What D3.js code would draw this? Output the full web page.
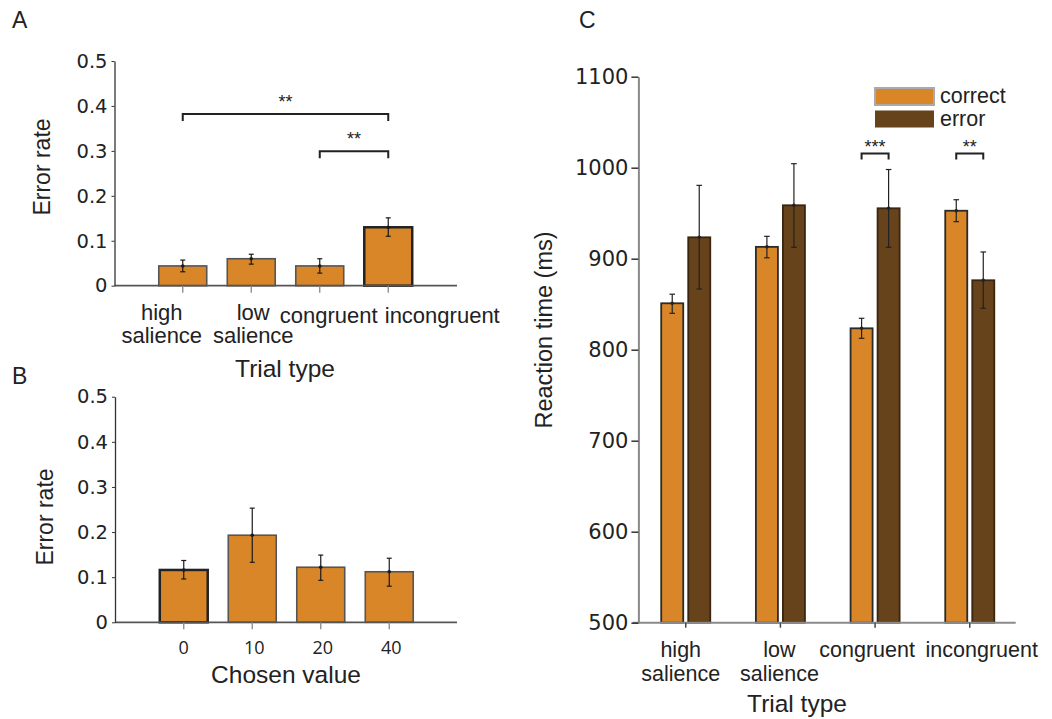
<!DOCTYPE html>
<html>
<head>
<meta charset="utf-8">
<script src="https://cdn.jsdelivr.net/npm/d3@7"></script>
<style>
  body { margin: 0; background: #fff; }
  svg { display: block; font-family: "Liberation Sans", Arial, sans-serif; }
  text { fill: #222; }
</style>
</head>
<body>
<svg id="chart" width="1052" height="719"></svg>
<script>
// --- data ---

// panel A: error rate per trial type
var trialTypes = ["high salience", "low salience", "congruent", "incongruent"];
var errorRateA = [0.044, 0.060, 0.044, 0.130];
var errorRateALow = [0.031, 0.048, 0.028, 0.110];
var errorRateAHigh = [0.057, 0.070, 0.060, 0.151];
var errorTicks = [0, 0.1, 0.2, 0.3, 0.4, 0.5];
var sigA = [
  { from: "high salience", to: "incongruent", y: 0.382, label: "**" },
  { from: "congruent", to: "incongruent", y: 0.299, label: "**" }
];

// panel B: error rate per chosen value
var chosenValues = ["0", "10", "20", "40"];
var errorRateB = [0.116, 0.193, 0.122, 0.112];
var errorRateBLow = [0.096, 0.133, 0.093, 0.080];
var errorRateBHigh = [0.137, 0.253, 0.149, 0.142];

// panel C: reaction time, correct vs error trials
var outcomes = ["correct", "error"];
var rtCorrect = [851, 913, 823.5, 952.7];
var rtCorrectLow = [840, 901, 812.5, 940.7];
var rtCorrectHigh = [861, 924.6, 834.5, 964.8];
var rtError = [923.5, 958.7, 955.4, 876.3];
var rtErrorLow = [866.7, 912.5, 912.5, 845.5];
var rtErrorHigh = [980.6, 1004.4, 998, 907.4];
var rtTicks = [500, 600, 700, 800, 900, 1000, 1100];
var sigC = [
  { group: "congruent", y: 1015.5, label: "***" },
  { group: "incongruent", y: 1015.5, label: "**" }
];

// --- style ---
var ORANGE = "#d98628";
var BROWN = "#66431a";
var TEXT = "#222";
var TICK_FONT = "'DejaVu Sans', sans-serif";

var svg = d3.select("#chart");

function fmtRate(d) { return d === 0 ? "0" : d3.format(".1f")(d); }

// two-line category label (e.g. "high salience" -> high / salience)
function catLines(name) {
  return name.indexOf("salience") >= 0 ? name.split(" ") : [name];
}

function errorBars(g, xs, lows, highs, means, capW, color) {
  var eb = g.append("g").attr("class", "errbars");
  xs.forEach(function(x, i) {
    eb.append("line").attr("x1", x).attr("x2", x)
      .attr("y1", lows[i]).attr("y2", highs[i])
      .attr("stroke", color).attr("stroke-width", 1.2);
    [lows[i], highs[i]].forEach(function(y) {
      eb.append("line").attr("x1", x - capW).attr("x2", x + capW)
        .attr("y1", y).attr("y2", y)
        .attr("stroke", color).attr("stroke-width", 1.2);
    });
    eb.append("circle").attr("cx", x).attr("cy", means[i]).attr("r", 1.8).attr("fill", color);
  });
}

// ---------- panels A and B: single-series error-rate bars ----------
function ratePanel(opts) {
  var g = svg.append("g");
  var x = d3.scaleBand()
    .domain(opts.cats)
    .range(opts.xRange)
    .paddingInner(0.3)
    .paddingOuter(0.15);
  var y = d3.scaleLinear().domain([0, 0.5]).range(opts.yRange);

  // bars
  g.selectAll("rect.bar")
    .data(opts.values)
    .enter()
    .append("rect")
    .attr("class", "bar")
    .attr("x", function(d, i) { return x(opts.cats[i]); })
    .attr("y", function(d) { return y(d); })
    .attr("width", x.bandwidth())
    .attr("height", function(d) { return y(0) - y(d); })
    .attr("fill", ORANGE)
    .attr("stroke", function(d, i) { return opts.darkEdge[i] ? "#222" : "#555"; })
    .attr("stroke-width", function(d, i) { return opts.darkEdge[i] ? 2.5 : 1.6; });

  var centers = opts.cats.map(function(c) { return x(c) + x.bandwidth() / 2; });
  errorBars(g, centers,
    opts.lows.map(y), opts.highs.map(y), opts.values.map(y), 2.5, "#1a1a1a");

  // x axis: base line + downward ticks
  g.append("line")
    .attr("x1", opts.axisX).attr("x2", opts.xEnd)
    .attr("y1", y(0)).attr("y2", y(0))
    .attr("stroke", "#555").attr("stroke-width", 1.8);
  centers.forEach(function(cx) {
    g.append("line").attr("x1", cx).attr("x2", cx)
      .attr("y1", y(0)).attr("y2", y(0) + 7)
      .attr("stroke", "#888").attr("stroke-width", 1.3);
  });

  // y axis
  var yAxis = d3.axisLeft(y).tickValues(errorTicks).tickFormat(fmtRate)
    .tickSize(3).tickSizeOuter(0).tickPadding(4);
  var ya = g.append("g").attr("transform", "translate(" + opts.axisX + ",0)").call(yAxis);
  ya.select(".domain").attr("stroke", "#333").attr("stroke-width", 1.3);
  ya.selectAll(".tick line").attr("stroke", "#333");
  ya.selectAll(".tick text")
    .style("font-family", TICK_FONT)
    .style("font-size", "19.5px").attr("fill", TEXT);

  // category labels
  opts.drawLabels(g, x, centers, y(0));

  // axis titles
  g.append("text")
    .attr("transform", "translate(" + opts.yTitle[0] + "," + opts.yTitle[1] + ") rotate(-90)")
    .attr("text-anchor", "middle").attr("dominant-baseline", "central")
    .style("font-size", "23px").text("Error rate");
  g.append("text")
    .attr("x", opts.xTitle[0]).attr("y", opts.xTitle[1])
    .attr("text-anchor", "middle").style("font-size", "24.5px").text(opts.xTitleText);

  return { g: g, x: x, y: y };
}

// panel A
var labelShiftA = [-21, 2, 9, 54];
var pA = ratePanel({
  cats: trialTypes,
  values: errorRateA, lows: errorRateALow, highs: errorRateAHigh,
  darkEdge: [false, false, false, true],
  xRange: [148.5, 422.5], yRange: [285.7, 61],
  axisX: 114.5, xEnd: 457,
  yTitle: [42, 167], xTitle: [285, 377], xTitleText: "Trial type",
  drawLabels: function(g, x, centers, y0) {
    trialTypes.forEach(function(t, i) {
      var lines = catLines(t);
      var txt = g.append("text").attr("text-anchor", "middle")
        .style("font-size", "22px");
      lines.forEach(function(l, j) {
        txt.append("tspan")
          .attr("x", centers[i] + labelShiftA[i])
          .attr("y", lines.length > 1 ? y0 + 34 + j * 23 : y0 + 37)
          .text(l);
      });
    });
  }
});

// significance brackets for A
sigA.forEach(function(s) {
  var x1 = pA.x(s.from) + pA.x.bandwidth() / 2;
  var x2 = pA.x(s.to) + pA.x.bandwidth() / 2;
  var yy = pA.y(s.y);
  pA.g.append("path")
    .attr("d", "M" + x1 + "," + (yy + 7) + "V" + yy + "H" + x2 + "V" + (yy + 7))
    .attr("fill", "none").attr("stroke", "#222").attr("stroke-width", 2);
  pA.g.append("text").attr("x", (x1 + x2) / 2).attr("y", yy - 6)
    .attr("text-anchor", "middle").style("font-size", "18px").text(s.label);
});

// panel B
var pB = ratePanel({
  cats: chosenValues,
  values: errorRateB, lows: errorRateBLow, highs: errorRateBHigh,
  darkEdge: [true, false, false, false],
  xRange: [149.5, 423.5], yRange: [622.3, 396.7],
  axisX: 115, xEnd: 457,
  yTitle: [45, 517], xTitle: [286, 683], xTitleText: "Chosen value",
  drawLabels: function(g, x, centers, y0) {
    chosenValues.forEach(function(v, i) {
      g.append("text")
        .attr("x", centers[i] + (i === 0 ? 0 : 2))
        .attr("y", y0 + 32)
        .attr("text-anchor", "middle")
        .style("font-family", "'Open Sans', sans-serif")
        .style("font-size", "18px")
        .text(v);
    });
  }
});

// ---------- panel C: reaction time, grouped bars ----------
var gC = svg.append("g");
var xC = d3.scaleBand()
  .domain(trialTypes)
  .range([638.4, 1017.1])
  .paddingInner(0.482)
  .paddingOuter(0.241);
var xSub = d3.scaleBand()
  .domain(outcomes)
  .range([0, xC.bandwidth()])
  .paddingInner(0.185);
var yC = d3.scaleLinear().domain([500, 1100]).range([622.7, 76.7]);

var seriesC = [
  { key: "correct", vals: rtCorrect, lows: rtCorrectLow, highs: rtCorrectHigh, fill: ORANGE, edge: "#2a2a2a" },
  { key: "error", vals: rtError, lows: rtErrorLow, highs: rtErrorHigh, fill: BROWN, edge: "#3a2610" }
];

seriesC.forEach(function(s) {
  gC.append("g").selectAll("rect")
    .data(s.vals)
    .enter()
    .append("rect")
    .attr("x", function(d, i) { return xC(trialTypes[i]) + xSub(s.key); })
    .attr("y", function(d) { return yC(d); })
    .attr("width", xSub.bandwidth())
    .attr("height", function(d) { return yC(500) - yC(d); })
    .attr("fill", s.fill)
    .attr("stroke", s.edge)
    .attr("stroke-width", 1.8);
});

seriesC.forEach(function(s) {
  var xs = trialTypes.map(function(t) { return xC(t) + xSub(s.key) + xSub.bandwidth() / 2; });
  errorBars(gC, xs, s.lows.map(yC), s.highs.map(yC), s.vals.map(yC), 2.8, "#222");
});

// x axis C
gC.append("line")
  .attr("x1", 632.7).attr("x2", 1015.7)
  .attr("y1", yC(500)).attr("y2", yC(500))
  .attr("stroke", "#8a8a8a").attr("stroke-width", 2);
trialTypes.forEach(function(t) {
  var cx = xC(t) + xC.bandwidth() / 2;
  gC.append("line").attr("x1", cx).attr("x2", cx)
    .attr("y1", yC(500)).attr("y2", yC(500) + 5)
    .attr("stroke", "#444").attr("stroke-width", 1.5);
});

// y axis C
var yAxisC = d3.axisLeft(yC).tickValues(rtTicks).tickFormat(d3.format("d"))
  .tickSize(7).tickSizeOuter(0).tickPadding(3);
var yaC = gC.append("g").attr("transform", "translate(638.4,0)").call(yAxisC);
yaC.select(".domain").attr("stroke", "#8a8a8a").attr("stroke-width", 2);
yaC.selectAll(".tick line").attr("stroke", "#333").attr("stroke-width", 1.5);
yaC.selectAll(".tick text")
  .style("font-family", TICK_FONT)
  .style("font-size", "21px").attr("fill", TEXT);

// category labels C
var labelShiftC = [-5, -1, -8, 12];
trialTypes.forEach(function(t, i) {
  var cx = xC(t) + xC.bandwidth() / 2 + labelShiftC[i];
  var lines = catLines(t);
  var txt = gC.append("text").attr("text-anchor", "middle").style("font-size", "21.5px");
  lines.forEach(function(l, j) {
    txt.append("tspan").attr("x", cx).attr("y", yC(500) + 34 + j * 24).text(l);
  });
});

// significance brackets C
sigC.forEach(function(s) {
  var x1 = xC(s.group) + xSub("correct") + xSub.bandwidth() / 2;
  var x2 = xC(s.group) + xSub("error") + xSub.bandwidth() / 2;
  var yy = yC(s.y);
  gC.append("path")
    .attr("d", "M" + x1 + "," + (yy + 6) + "V" + yy + "H" + x2 + "V" + (yy + 6))
    .attr("fill", "none").attr("stroke", "#222").attr("stroke-width", 2);
  gC.append("text").attr("x", (x1 + x2) / 2).attr("y", yy - 1)
    .attr("text-anchor", "middle").style("font-size", "18px").text(s.label);
});

// legend C
var legend = gC.append("g").attr("transform", "translate(875,88)");
outcomes.forEach(function(o, i) {
  var s = seriesC[i];
  legend.append("rect")
    .attr("x", 0).attr("y", i * 22.5)
    .attr("width", 59).attr("height", 17)
    .attr("fill", s.fill)
    .attr("stroke", i === 0 ? "#aaa" : "none")
    .attr("stroke-width", 2);
  legend.append("text")
    .attr("x", 65).attr("y", i * 22.5 + 15)
    .style("font-size", "21.5px").text(o);
});

// axis titles C
gC.append("text")
  .attr("transform", "translate(544,330) rotate(-90)")
  .attr("text-anchor", "middle").attr("dominant-baseline", "central")
  .style("font-size", "23.5px").text("Reaction time (ms)");
gC.append("text")
  .attr("x", 797).attr("y", 712)
  .attr("text-anchor", "middle").style("font-size", "24.5px").text("Trial type");

// panel letters
[["A", 12, 28], ["B", 12, 384], ["C", 579, 28]].forEach(function(p) {
  svg.append("text").attr("x", p[1]).attr("y", p[2]).style("font-size", "23px").text(p[0]);
});
</script>
</body>
</html>
